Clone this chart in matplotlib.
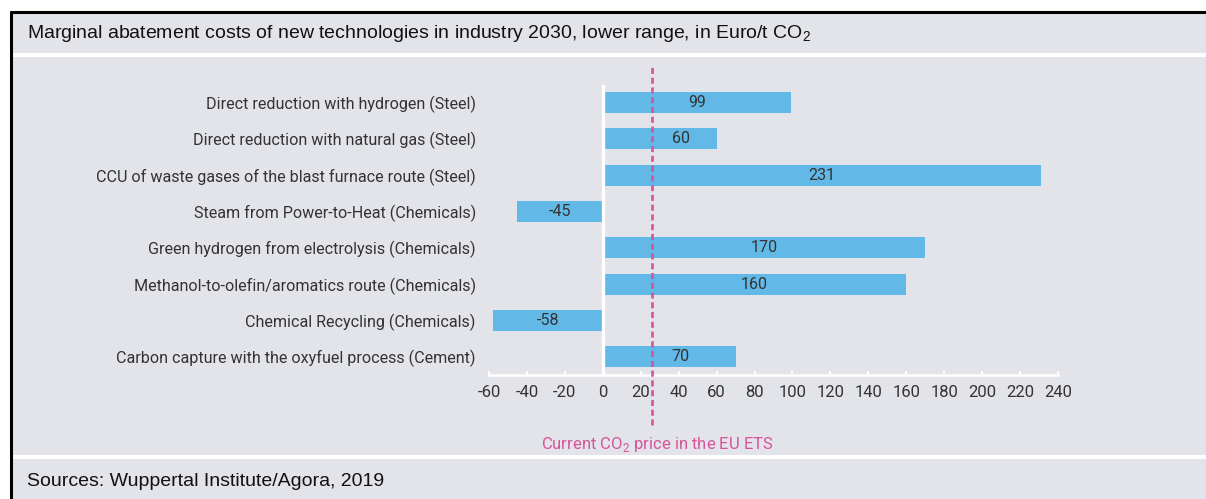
import matplotlib
matplotlib.use("Agg")
import matplotlib.pyplot as plt
from matplotlib.patches import Rectangle
from matplotlib.lines import Line2D
import matplotlib.transforms as mtransforms

# ---- data ----
categories = [
    "Direct reduction with hydrogen (Steel)",
    "Direct reduction with natural gas (Steel)",
    "CCU of waste gases of the blast furnace route (Steel)",
    "Steam from Power-to-Heat (Chemicals)",
    "Green hydrogen from electrolysis (Chemicals)",
    "Methanol-to-olefin/aromatics route (Chemicals)",
    "Chemical Recycling (Chemicals)",
    "Carbon capture with the oxyfuel process (Cement)",
]
values = [99, 60, 231, -45, 170, 160, -58, 70]
co2_price = 26
xticks = list(range(-60, 241, 20))
title = "Marginal abatement costs of new technologies in industry 2030, lower range, in Euro/t CO$_\\mathregular{2}$"
source = "Sources: Wuppertal Institute/Agora, 2019"
price_label = "Current CO$_\\mathregular{2}$ price in the EU ETS"

# ---- style ----
W, H = 1206, 499
panel = "#e3e4e9"
bar_color = "#62b9e7"
pink = "#d6549a"
txt = "#333333"
chart_font = "Roboto"
head_font = "Liberation Sans"

fig = plt.figure(figsize=(W / 100, H / 100), dpi=100, facecolor="white")

def px_rect(x0, y0, x1, y1, **kw):
    fig.patches.append(Rectangle((x0 / W, 1 - y1 / H), (x1 - x0) / W, (y1 - y0) / H,
                                 transform=fig.transFigure, **kw))

# panels
px_rect(12, 13, W, 53, facecolor=panel, edgecolor="none", zorder=-2)
px_rect(12, 57, W, 455, facecolor=panel, edgecolor="none", zorder=-2)
px_rect(12, 459, W, H, facecolor=panel, edgecolor="none", zorder=-2)
# black border (left and top)
fig.lines.append(Line2D([10.5 / W, 10.5 / W], [0, 1 - 11 / H], transform=fig.transFigure,
                        color="black", lw=2.2, solid_capstyle="butt", zorder=-1))
fig.lines.append(Line2D([9.5 / W, 1], [1 - 11.8 / H, 1 - 11.8 / H], transform=fig.transFigure,
                        color="black", lw=2.2, solid_capstyle="butt", zorder=-1))

fig.text(27 / W, 1 - 33 / H, title, fontsize=14, family=head_font, color="#111111",
         va="center", ha="left")
fig.text(27 / W, 1 - 482 / H, source, fontsize=14, family=head_font, color="#111111",
         va="center", ha="left")

# axes: x -60 -> px 489, 240 -> px 1058 ; y top 85, bottom 375
ax_l, ax_r, ax_t, ax_b = 489, 1058, 85, 375
ax = fig.add_axes([ax_l / W, 1 - ax_b / H, (ax_r - ax_l) / W, (ax_b - ax_t) / H])
ax.set_facecolor("none")
ax.set_zorder(1)
ax.set_xlim(-60, 240)
ax.set_ylim(7.5, -0.48)

ypos = list(range(len(categories)))
ax.barh(ypos, values, height=0.58, color=bar_color, zorder=2)
for y, v in zip(ypos, values):
    lx = v / 2
    if v > 0:
        lx = max(lx, co2_price + 15)  # keep label clear of the price line
    ax.text(lx, y, str(v), ha="center", va="center", fontsize=11.5,
            family=chart_font, color=txt, zorder=4)

ax.axvline(0, color="white", lw=2.4, zorder=3)

for s in ["top", "right", "left"]:
    ax.spines[s].set_visible(False)
ax.spines["bottom"].set_color("white")
ax.spines["bottom"].set_linewidth(1.8)
ax.spines["bottom"].set_zorder(3)

ax.set_xticks(xticks)
ax.set_xticklabels([str(t) for t in xticks])
ax.tick_params(axis="x", direction="in", length=3, width=1.3, color="white",
               labelcolor=txt, labelsize=12, pad=7)
ax.set_yticks(ypos)
ax.set_yticklabels(categories)
ax.tick_params(axis="y", length=0, labelcolor=txt, labelsize=11.6, pad=9.5)
for lab in ax.get_xticklabels() + ax.get_yticklabels():
    lab.set_family(chart_font)

# current CO2 price line
ymin = (ax_b - 425) / (ax_b - ax_t)
ymax = (ax_b - 67) / (ax_b - ax_t)
ax.axvline(co2_price, ymin=ymin, ymax=ymax, color=pink, lw=1.9,
           dashes=(2.3, 1.4), clip_on=False, zorder=5)
trans = mtransforms.blended_transform_factory(ax.transData, ax.transAxes)
txt_off = mtransforms.offset_copy(trans, fig=fig, x=5, y=0, units="dots")
ax.text(co2_price, (ax_b - 445) / (ax_b - ax_t), price_label, transform=txt_off,
        ha="center", va="center", fontsize=12, family=chart_font, color=pink)

fig.savefig("out.png", dpi=100, facecolor="white")
